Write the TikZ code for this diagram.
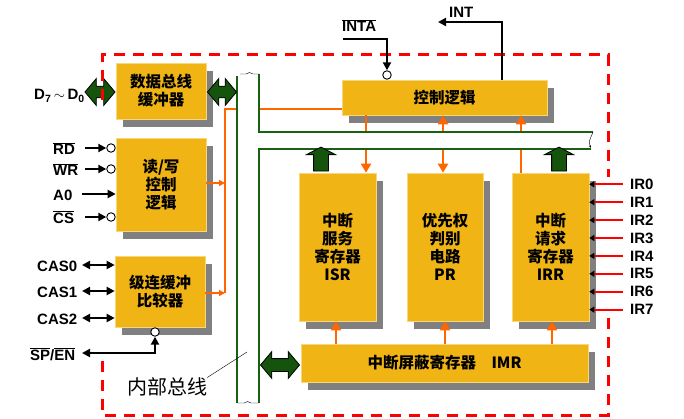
\documentclass[tikz,border=0pt]{standalone}
\usepackage{fontspec}
\setmainfont{Liberation Sans}
\newfontfamily\cjk{Noto Sans CJK SC}
\usetikzlibrary{arrows.meta,positioning,shapes.arrows,shadows}
\definecolor{boxyellow}{RGB}{240,181,20}
\definecolor{shadowgray}{RGB}{128,128,128}
\definecolor{busgreen}{RGB}{24,96,18}
\definecolor{fatgreen}{RGB}{20,84,12}
\definecolor{sigorange}{RGB}{255,102,0}
\newcommand{\ovl}[1]{$\overline{\mbox{#1}}$}

\begin{document}
\begin{tikzpicture}[x=1pt,y=-1pt,font=\bfseries\fontsize{15}{17}\selectfont,>={Triangle[length=8pt,width=8pt]},
  unit/.style={fill=boxyellow,draw=boxyellow!55!white,line width=.6pt,align=center,inner sep=0pt,
    font=\cjk\bfseries\fontsize{15.5}{18}\selectfont,
    drop shadow={shadow xshift=7pt,shadow yshift=-8pt,fill=shadowgray,opacity=1}},
  bubble/.style={circle,draw,fill=white,inner sep=0pt,minimum size=8.5pt,line width=.9pt},
  sig/.style={line width=2pt},
  osig/.style={sigorange,line width=2.2pt,>={Triangle[length=9pt,width=10pt]}},
  osmall/.style={sigorange,line width=2.2pt,>={Triangle[length=6pt,width=6pt]}},
  irsig/.style={red,line width=2.2pt,-{Triangle[length=5pt,width=6pt,black]}},
  fatboth/.style={double arrow,draw,fill=fatgreen,line width=.8pt,inner xsep=0pt,inner ysep=5pt,
    double arrow tip angle=100,minimum width=27pt},
  fatup/.style={single arrow,shape border rotate=90,draw,fill=fatgreen,line width=.8pt,inner sep=7pt,
    single arrow tip angle=125,minimum width=28pt,minimum height=24pt},
  lbl/.style={anchor=base west,inner sep=0pt},
  bus/.style={busgreen,line width=2pt}]
\useasboundingbox (0,0) rectangle (684,419);

% function blocks
\node[unit,minimum width=90pt,minimum height=56pt] (dbuf) at (161,91) {数据总线\\缓冲器};
\node[unit,minimum width=90pt,minimum height=93pt] (rw) at (161,184.5) {读/写\\控制\\逻辑};
\node[unit,minimum width=90pt,minimum height=71pt] (cas) at (160,291.5) {级连缓冲\\比较器};
\node[unit,minimum width=205pt,minimum height=35pt] (ctrl) at (444.5,97.5) {控制逻辑};
\node[unit,minimum width=77pt,minimum height=148pt] (isr) at (337.5,247) {中断\\服务\\寄存器\\ISR};
\node[unit,minimum width=76pt,minimum height=148pt] (pr) at (445,247) {优先权\\判别\\电路\\PR};
\node[unit,minimum width=77pt,minimum height=148pt] (irr) at (550.5,247) {中断\\请求\\寄存器\\IRR};
\node[unit,minimum width=287pt,minimum height=38pt] (imr) at (444.5,363) {中断屏蔽寄存器\quad IMR};

% orange signal paths
\coordinate (otop) at (225,109);
\coordinate (obot) at (225,293);
\draw[osig] (obot) -- (otop) -- (ctrl.west |- otop);
\draw[osmall,->] (rw.east |- 0,183) -- (otop |- 0,183);
\draw[osmall,->] (cas.east |- obot) -- (obot);
\draw[osig,->] (ctrl.south -| 366,0) -- (isr.north -| 366,0);
\draw[osig,<->] (ctrl.south -| 443,0) -- (pr.north -| 443,0);
\draw[osig,->] (irr.north -| 521,0) -- (ctrl.south -| 521,0);
\draw[osig,->] (imr.north -| 336,0) -- (isr.south -| 336,0);
\draw[osig,->] (imr.north -| 445,0) -- (pr.south -| 445,0);
\draw[osig,->] (imr.north -| 552,0) -- (irr.south -| 552,0);

% internal bus
\fill[white] (237,75) rectangle (259,403);
\fill[white] (259,132) rectangle (592,149);
\draw[bus] (237,76) -- (237,403);
\draw[bus] (259,74) -- (259,132) -- (593,132);
\draw[bus] (591,149) -- (259,149) -- (259,403);
\draw[thin] (240,74) -- (246,74) .. controls (248,72) and (251,72) .. (253,74) -- (259,74);
\draw[thin] (237,403) -- (244,403) .. controls (246,401) and (249,401) .. (251,403) -- (259,403);
\draw[thin,-{Stealth[length=3pt]}] (593,132) .. controls (590,140) and (588,141) .. (591,148);
\node[font=\cjk\mdseries\fontsize{20}{22}\selectfont,inner sep=0pt] (busl) at (167,387) {内部总线};
\coordinate (busin) at (247,352);
\draw[thin] (busl.north east) -- (busin);

% green data paths
\node[fatboth,minimum height=30pt] (dext) at (100,92) {};
\node[fatboth,minimum height=29pt] (dint) at (222,92) {};
\node[fatboth,minimum height=39pt,inner ysep=6pt] (dimr) at (280,365) {};
\node[fatup] (isrup) at (321,161) {};
\node[fatup] (irrup) at (559,161) {};
\node[lbl] (dl) at (34,100) {D\textsubscript{7}\,$\sim$\,D\textsubscript{0}};

% dashed chip outline
\draw[red,line width=3pt,dash pattern=on 11pt off 8pt] (102,100) -- (102,55) -- (608,55) -- (608,177);
\draw[red,line width=3pt,dash pattern=on 11pt off 8pt] (608,318) -- (608,415) -- (102,415) -- (102,357);

% read/write inputs
\coordinate (rdin) at (85,148);
\coordinate (wrin) at (85,169);
\coordinate (a0in) at (82,194);
\coordinate (csin) at (85,217);
\node[bubble,anchor=east] (rdb) at (rw.west |- rdin) {};
\node[bubble,anchor=east] (wrb) at (rw.west |- wrin) {};
\node[bubble,anchor=east] (csb) at (rw.west |- csin) {};
\draw[sig,->] (rdin) -- (rdb.west);
\draw[sig,->] (wrin) -- (wrb.west);
\draw[sig,->] (a0in) -- (rw.west |- a0in);
\draw[sig,->] (csin) -- (csb.west);
\node[lbl] (rdl) at (53,154.5) {\ovl{RD}};
\node[lbl] (wrl) at (53,175.5) {\ovl{WR}};
\node[lbl] (a0l) at (53,200.5) {A0};
\node[lbl] (csl) at (53,223.5) {\ovl{CS}};

% cascade lines
\coordinate (cas0) at (82,265);
\coordinate (cas1) at (82,291);
\coordinate (cas2) at (82,318);
\draw[sig,<->] (cas0) -- (cas.west |- cas0);
\draw[sig,<->] (cas1) -- (cas.west |- cas1);
\draw[sig,<->] (cas2) -- (cas.west |- cas2);
\node[lbl] (cas0l) at (37,271.5) {CAS0};
\node[lbl] (cas1l) at (37,297.5) {CAS1};
\node[lbl] (cas2l) at (37,324.5) {CAS2};
\node[bubble,anchor=north] (spb) at (cas.south -| 155,0) {};
\coordinate (spout) at (82,353);
\draw[sig,<->] (spout) -| (spb.south);
\node[lbl] (spl) at (30,360) {\ovl{SP}/\ovl{EN}};

% acknowledge and request
\node[bubble,anchor=south] (intab) at (ctrl.north -| 387,0) {};
\coordinate (intain) at (343,39);
\draw[sig,->] (intain) -| (intab.north);
\node[lbl] (intal) at (342,32) {\ovl{INTA}};
\coordinate (intout) at (438,22);
\draw[sig,->] (ctrl.north -| 502,0) |- (intout);
\node[lbl] (intl) at (449,18) {INT};

% interrupt request inputs
\foreach \i in {0,...,7}{
  \node[anchor=west,inner sep=0pt] (ir\i) at (630,184.3+17.9*\i) {IR\i};
  \draw[irsig] ([xshift=-7pt]ir\i.west) -- (ir\i.west -| irr.east);
}
\end{tikzpicture}
\end{document}
